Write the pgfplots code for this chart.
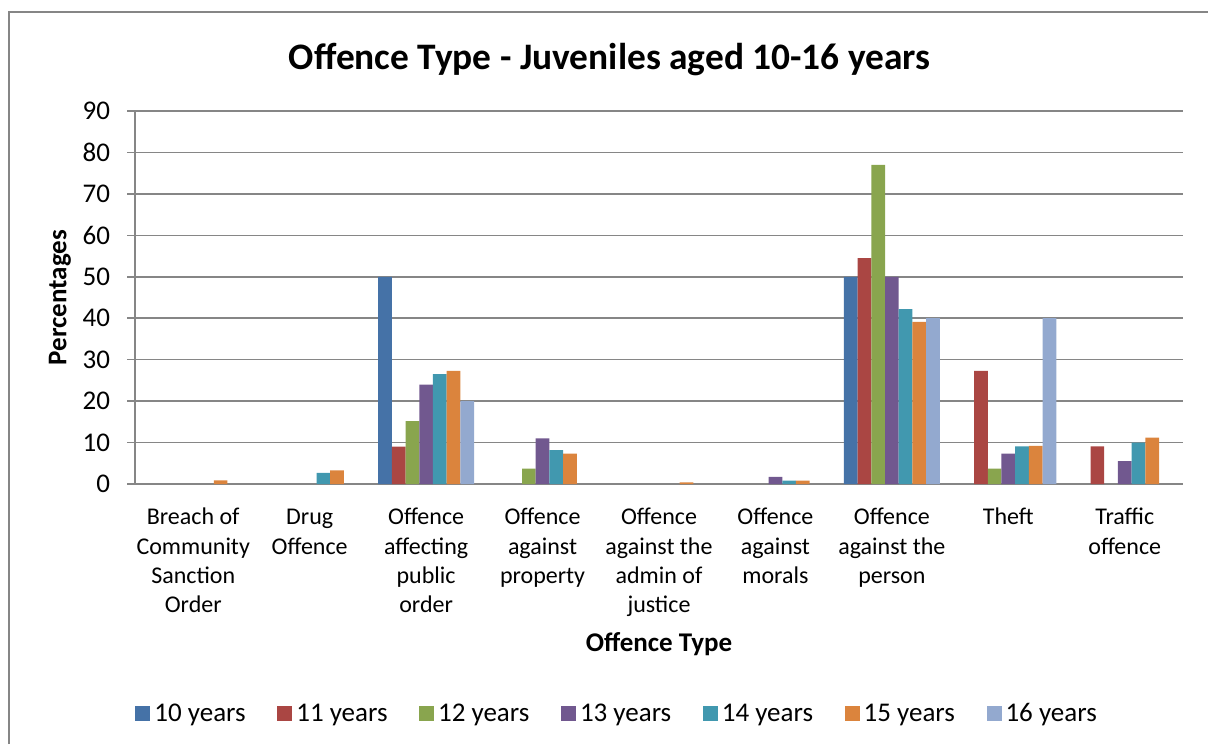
\documentclass[border=0pt]{standalone}
\usepackage{pgfplots}
\pgfplotsset{compat=1.18}
\usepackage{fontspec}
\setmainfont{Carlito}
\definecolor{c10}{HTML}{4572A7}
\definecolor{c11}{HTML}{AA4643}
\definecolor{c12}{HTML}{89A54E}
\definecolor{c13}{HTML}{71588F}
\definecolor{c14}{HTML}{4198AF}
\definecolor{c15}{HTML}{DB843D}
\definecolor{c16}{HTML}{93A9CF}
\definecolor{gridgray}{HTML}{868686}
\begin{document}
\begin{tikzpicture}
\path[use as bounding box] (0,0) rectangle (604pt,372pt);
\draw[gridgray, line width=0.75pt] (4.5pt,0pt) -- (4.5pt,366pt) -- (604pt,366pt);
\begin{axis}[
  at={(67.5pt,130pt)}, anchor=south west,
  scale only axis, width=524pt, height=186.5pt,
  ybar=0pt, bar width=6.85pt,
  xmin=-0.5, xmax=8.5, ymin=0, ymax=90,
  ytick={0,10,...,90},
  xtick={0,...,8},
  xticklabels={{\strut Breach of\\Community\\Sanction\\Order},{\strut Drug\\Offence},{\strut Offence\\affecting\\public\\order},{\strut Offence\\against\\property},{\strut Offence\\against the\\admin of\\justice},{\strut Offence\\against\\morals},{\strut Offence\\against the\\person},{\strut Theft},{\strut Traffic\\offence}},
  xticklabel style={align=center, anchor=north, font=\fontsize{12}{14.7}\selectfont, yshift=-2.5pt},
  yticklabel style={font=\fontsize{13.5}{16}\selectfont, xshift=-5pt},
  /pgf/number format/assume math mode=true,
  axis lines=left,
  axis line style={gridgray, line width=0.75pt, -},
  x axis line style={-},
  major x tick style={draw=none},
  major y tick style={gridgray, line width=0.75pt},
  tick align=outside, major tick length=4pt,
  ymajorgrids, grid style={gridgray, line width=0.75pt},
  clip=false,
  title={Offence Type - Juveniles aged 10-16 years},
  title style={at={(0.453,1.105)}, anchor=center, font=\fontsize{18.7}{22}\selectfont\bfseries},
  xlabel={Offence Type},
  xlabel style={at={(0.5,-0.429)}, anchor=center, font=\fontsize{13.5}{16}\selectfont\bfseries},
  ylabel={Percentages},
  ylabel style={at={(-0.0716,0.5)}, anchor=center, rotate=0, font=\fontsize{13.5}{16}\selectfont\bfseries},
  legend columns=7,
  legend style={at={(0.461,-0.617)}, anchor=center, draw=none, fill=none,
    font=\fontsize{13.5}{16}\selectfont,
    /tikz/every even column/.append style={column sep=13.8pt}},
  legend image code/.code={\fill[#1] (0pt,-3.5pt) rectangle (7.5pt,4pt);},
]
\addplot[fill=c10, draw=none] coordinates {(2,50) (6,50)};
\addplot[fill=c11, draw=none] coordinates {(2,9.0) (6,54.5) (7,27.3) (8,9.1)};
\addplot[fill=c12, draw=none] coordinates {(2,15.2) (3,3.7) (6,77.0) (7,3.7)};
\addplot[fill=c13, draw=none] coordinates {(2,24.0) (3,11.0) (5,1.7) (6,50) (7,7.3) (8,5.5)};
\addplot[fill=c14, draw=none] coordinates {(1,2.7) (2,26.5) (3,8.2) (5,0.8) (6,42.2) (7,9.1) (8,10.0)};
\addplot[fill=c15, draw=none] coordinates {(0,0.9) (1,3.3) (2,27.3) (3,7.3) (4,0.4) (5,0.8) (6,39.1) (7,9.2) (8,11.2)};
\addplot[fill=c16, draw=none] coordinates {(2,20) (6,40) (7,40)};
\legend{10 years,11 years,12 years,13 years,14 years,15 years,16 years}
\end{axis}
\end{tikzpicture}
\end{document}
